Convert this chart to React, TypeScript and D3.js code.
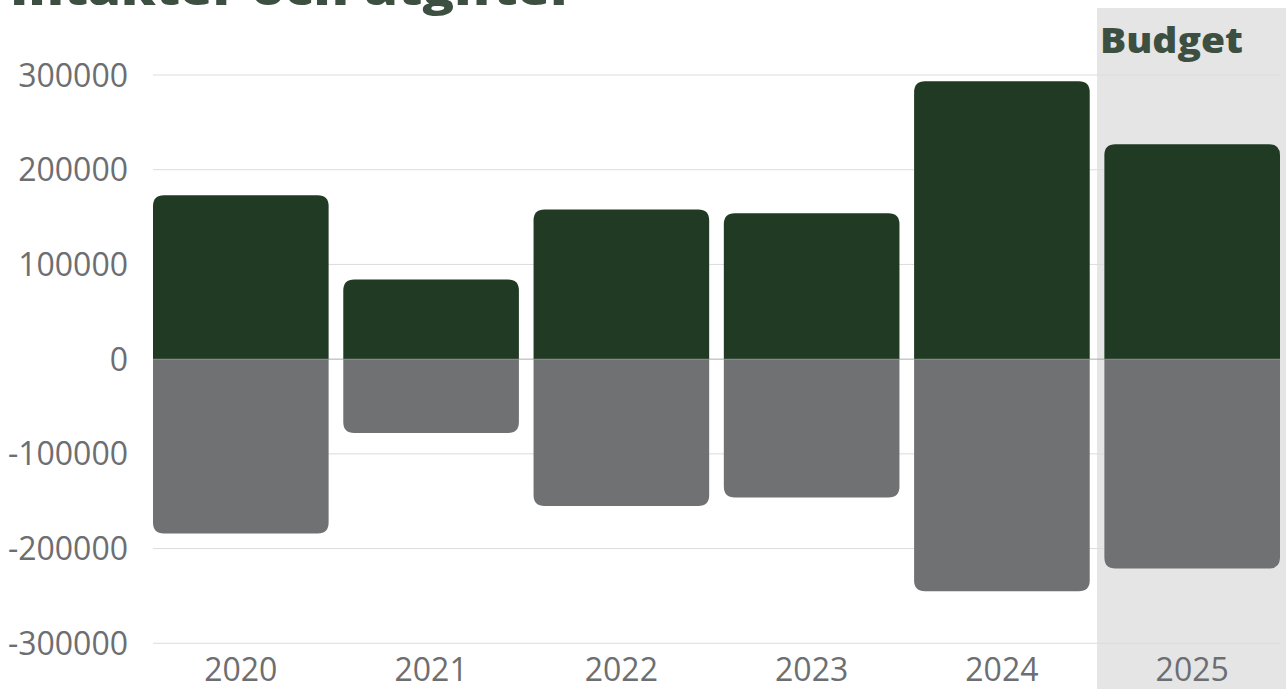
import React from "react";
import * as d3 from "d3";

const years = ["2020", "2021", "2022", "2023", "2024", "2025"];
const income = [173000, 84000, 158000, 154000, 293500, 227000];
const expenses = [-184000, -78000, -155000, -146000, -245000, -221000];
const yTicks = [-300000, -200000, -100000, 0, 100000, 200000, 300000];
const title = "Intäkter och utgifter";
const budgetLabel = "Budget";
const budgetYears = ["2025"];

const W = 1286;
const H = 689;

function roundedBar(x: number, y0: number, y1: number, w: number, r: number) {
  const up = y1 < y0;
  const h = Math.abs(y1 - y0);
  const rr = Math.min(r, h, w / 2);
  if (up) {
    return `M${x},${y0} L${x},${y1 + rr} Q${x},${y1} ${x + rr},${y1} L${x + w - rr},${y1} Q${x + w},${y1} ${x + w},${y1 + rr} L${x + w},${y0} Z`;
  }
  return `M${x},${y0} L${x},${y1 - rr} Q${x},${y1} ${x + rr},${y1} L${x + w - rr},${y1} Q${x + w},${y1} ${x + w},${y1 - rr} L${x + w},${y0} Z`;
}

export default function App() {
  const x = d3.scaleBand<string>().domain(years).range([153, 1280]).paddingInner(0.077).paddingOuter(0);
  const y = d3.scaleLinear().domain([-300000, 300000]).range([643.3, 75]);
  const bw = x.bandwidth();
  const step = x.step();
  const pad = step - bw;
  const budgetStart = (x(budgetYears[0]) as number) - pad / 2;

  return (
    <svg width={W} height={H} style={{ position: "absolute", left: 0, top: 0 }}>
      <rect x={0} y={0} width={W} height={H} fill="#ffffff" />
      <rect x={budgetStart} y={8} width={W - budgetStart} height={H - 8} fill="#e5e5e5" />
      {yTicks.map((t) => (
        <g key={t}>
          {t !== 0 && (
            <line x1={153} x2={1280} y1={y(t)} y2={y(t)} stroke="#dcdcdc" strokeWidth={1} />
          )}
          <text
            x={128}
            y={y(t)}
            dy="0.36em"
            textAnchor="end"
            fontFamily="'Open Sans', sans-serif"
            fontSize={32}
            fill="#6d6e71"
          >
            {t}
          </text>
        </g>
      ))}
      {years.map((yr, i) => (
        <g key={yr}>
          <path d={roundedBar(x(yr) as number, y(0), y(income[i]), bw, 11)} fill="#213a24" />
          <path d={roundedBar(x(yr) as number, y(0), y(expenses[i]), bw, 11)} fill="#707173" />
          <text
            x={(x(yr) as number) + bw / 2}
            y={681}
            textAnchor="middle"
            fontFamily="'Open Sans', sans-serif"
            fontSize={32}
            fill="#6d6e71"
          >
            {yr}
          </text>
        </g>
      ))}
      <line x1={153} x2={1280} y1={y(0)} y2={y(0)} stroke="#8a8a8a" strokeWidth={1} strokeOpacity={0.7} />
      <text
        x={1100}
        y={53}
        fontFamily="'Open Sans', sans-serif"
        fontWeight={800}
        fontSize={36}
        fill="#3d4f40"
        textLength={143}
        lengthAdjust="spacingAndGlyphs"
      >
        {budgetLabel}
      </text>
      <text
        x={10}
        y={5}
        fontFamily="'Open Sans', sans-serif"
        fontWeight={800}
        fontSize={44}
        fill="#3d4f40"
        textLength={565}
        lengthAdjust="spacingAndGlyphs"
      >
        {title}
      </text>
    </svg>
  );
}
